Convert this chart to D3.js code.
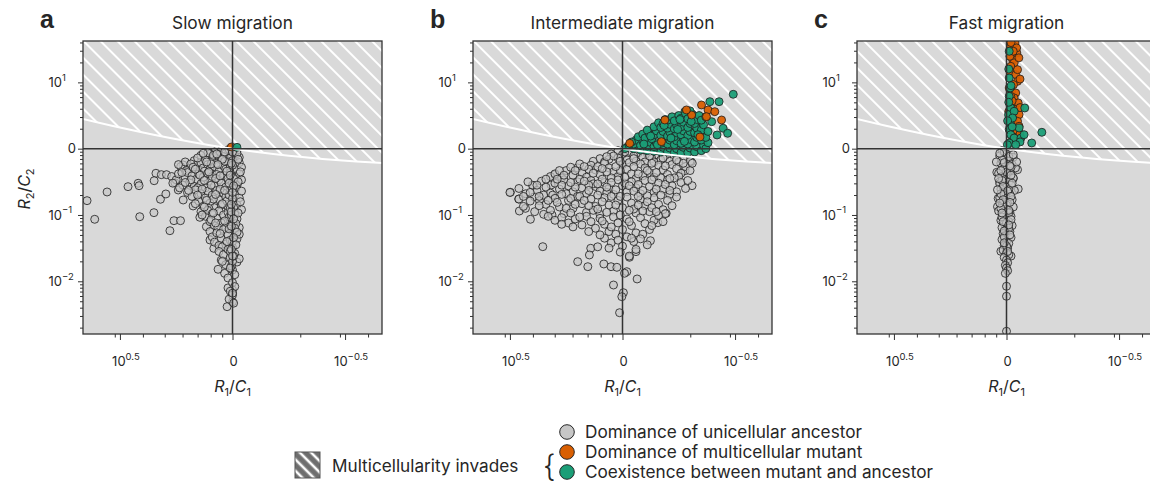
<!DOCTYPE html>
<html>
<head>
<meta charset="utf-8">
<script src="https://cdn.jsdelivr.net/npm/d3@7"></script>
<style>
  body { margin: 0; background: #fff; }
  svg text { font-family: Inter, "Noto Sans", sans-serif; fill: #262626; }
</style>
</head>
<body>
<svg id="chart" width="1150" height="484"></svg>
<script>
// Each point is [log10(R1/C1), log10(R2/C2)] for one simulated community.

// ---- Slow migration ----
const slowUnicellular = [
  [0.646,-0.784],[0.612,-1.065],[0.557,-0.653],[0.464,-0.573],[0.419,-0.522],[0.415,-0.558],[0.412,-1.026],
  [0.349,-0.965],[0.340,-0.371],[0.348,-0.483],[0.316,-0.392],[0.293,-0.392],[0.320,-0.763],[0.296,-0.683],
  [0.278,-1.237],[0.260,-1.086],[0.231,-1.086],[0.219,-0.246],[0.256,-0.513],[0.241,-0.623],[0.219,-0.774],
  [0.175,-0.864],[0.145,-1.035],[0.116,-1.176],[0.100,-1.377],[0.083,-1.503],[0.064,-1.819],[0.024,-2.383],
  [0.000,-2.31],[0.000,-2.18],[0.000,-2.13],[0.020,-2.10],
  [0.02,-0.02],[0.05,-0.03],[0.08,-0.05],[0.00,-0.04],[-0.02,-0.03],[0.10,-0.08],[0.06,-0.09],[0.03,-0.07],
  [-0.01,-0.10],[0.09,-0.12],[0.12,-0.13],[0.04,-0.12],[0.01,-0.14],[-0.03,-0.13],[0.07,-0.15],[0.11,-0.06],
  [0.14,-0.10],[-0.02,-0.07],[0.015,-0.01],[0.035,-0.05],
  [0.23,-0.27],[0.21,-0.20],[0.19,-0.30],[0.17,-0.18],[0.16,-0.25],[0.15,-0.33],[0.14,-0.21],[0.13,-0.29],
  [0.12,-0.17],[0.11,-0.24],[0.10,-0.31],[0.09,-0.19],[0.08,-0.27],[0.07,-0.22],[0.06,-0.34],[0.05,-0.17],
  [0.04,-0.26],[0.03,-0.31],[0.02,-0.20],[0.01,-0.28],[0.00,-0.18],[-0.01,-0.24],[-0.02,-0.32],[-0.03,-0.21],
  [-0.04,-0.28],[0.185,-0.23],[0.125,-0.34],[0.205,-0.33],[0.095,-0.23],[0.035,-0.19],
  [0.27,-0.42],[0.25,-0.47],[0.24,-0.38],[0.22,-0.55],[0.21,-0.44],[0.20,-0.36],[0.19,-0.50],[0.18,-0.41],
  [0.17,-0.57],[0.16,-0.46],[0.15,-0.38],[0.14,-0.53],[0.13,-0.43],[0.12,-0.59],[0.11,-0.37],[0.10,-0.49],
  [0.09,-0.42],[0.08,-0.56],[0.07,-0.39],[0.06,-0.47],[0.05,-0.52],[0.04,-0.40],[0.03,-0.58],[0.02,-0.45],
  [0.01,-0.36],[0.00,-0.51],[-0.01,-0.43],[-0.02,-0.55],[-0.03,-0.38],[-0.04,-0.47],[0.265,-0.52],[0.235,-0.59],
  [0.155,-0.59],[0.075,-0.45],[-0.015,-0.59],
  [0.20,-0.66],[0.18,-0.72],[0.165,-0.62],[0.15,-0.79],[0.14,-0.68],[0.13,-0.87],[0.12,-0.74],[0.11,-0.64],
  [0.10,-0.82],[0.09,-0.70],[0.08,-0.89],[0.07,-0.63],[0.06,-0.77],[0.05,-0.85],[0.04,-0.67],[0.03,-0.73],
  [0.02,-0.88],[0.01,-0.62],[0.00,-0.80],[-0.01,-0.69],[-0.02,-0.85],[-0.03,-0.74],[-0.04,-0.64],[0.105,-0.90],
  [0.055,-0.61],[0.025,-0.79],[-0.005,-0.89],[0.135,-0.61],[0.085,-0.76],[0.015,-0.70],
  [0.14,-0.95],[0.12,-1.02],[0.11,-0.93],[0.10,-1.10],[0.09,-0.98],[0.08,-1.16],[0.07,-1.05],[0.06,-0.94],
  [0.05,-1.12],[0.04,-1.00],[0.03,-1.18],[0.02,-0.96],[0.01,-1.08],[0.00,-1.14],[-0.01,-0.99],[-0.02,-1.06],
  [-0.03,-1.19],[-0.04,-0.92],[0.065,-1.19],[0.015,-1.03],[-0.015,-1.13],[0.095,-1.07],
  [0.10,-1.25],[0.09,-1.33],[0.08,-1.41],[0.07,-1.27],[0.06,-1.46],[0.05,-1.35],[0.04,-1.22],[0.03,-1.44],
  [0.02,-1.30],[0.01,-1.38],[0.00,-1.49],[-0.01,-1.24],[-0.02,-1.36],[-0.03,-1.29],[0.045,-1.48],[0.015,-1.21],
  [0.06,-1.55],[0.05,-1.68],[0.04,-1.60],[0.03,-1.75],[0.02,-1.52],[0.01,-1.64],[0.00,-1.83],[-0.01,-1.58],
  [-0.02,-1.71],[-0.03,-1.66],[0.035,-1.88],[0.005,-1.77],
  [0.02,-1.95],[0.00,-2.02],[-0.01,-2.08],[0.01,-2.15],[0.00,-2.21],[0.015,-2.27],[-0.005,-2.33],[0.00,-2.18],
  [0.0,-0.6],[0.01,-0.9],[-0.01,-1.2],[0.0,-1.4],[0.005,-1.0],[0.0,-0.25],[-0.005,-0.45],[0.0,-0.75],
  [0.01,-1.55],[0.0,-1.7],[-0.01,-1.9],[0.0,-0.05],
  [0.045,-0.16],[0.085,-0.10],[0.115,-0.20],[0.155,-0.14],[0.065,-0.24],[0.025,-0.34],[0.175,-0.28],[0.105,-0.35],
  [0.145,-0.40],[0.185,-0.47],[0.055,-0.41],[0.015,-0.52],[0.095,-0.55],[0.125,-0.48],[0.035,-0.63],[0.075,-0.69],
  [0.115,-0.78],[0.155,-0.70],[0.045,-0.83],[0.005,-0.95],[0.085,-0.97],[0.125,-0.88],[0.035,-1.09],[0.075,-1.12],
  [0.055,-1.28],[0.025,-1.40],[-0.005,-1.62],[0.045,-1.70],[0.01,-1.80],[-0.025,-0.16],[-0.035,-0.35],[-0.025,-0.50],
  [-0.035,-0.80],[-0.025,-0.97],[-0.02,-1.26],[-0.015,-1.45],[0.005,-0.22],[0.01,-0.40],[-0.005,-0.56],[0.0,-0.66],
  [0.005,-0.84],[-0.005,-1.06],[0.005,-1.17],[-0.005,-1.34],[0.005,-1.52],[0.0,-1.62],[0.21,-0.51],[0.225,-0.36],
  [0.195,-0.63],[0.165,-0.83],[0.135,-1.00],[0.24,-0.24],[0.165,-0.31],[0.07,-0.08],[0.13,-0.07]
];
const slowMulticellular = [[0.005,0.025]];
const slowCoexistence = [[-0.02,0.02]];

// ---- Intermediate migration ----
const intermediateUnicellular = [
  [0.498,-0.658],[0.461,-0.759],[0.458,-0.94],[0.431,-0.90],[0.409,-1.065],[0.396,-0.558],[0.391,-0.724],
  [0.369,-0.784],[0.354,-1.478],[0.300,-0.392],[0.317,-0.548],[0.313,-1.0],[0.199,-1.704],[0.154,-1.78],
  [0.141,-1.502],[0.147,-1.603],[0.083,-1.739],[0.040,-2.056],[0.013,-2.474],[-0.004,-2.172],[0.003,-2.232],
  [-0.065,-1.965],[-0.124,-1.388],[-0.194,-0.975],[-0.309,-0.558],[-0.278,-0.332],[-0.305,-0.196],
  [-0.157,-1.116],[-0.06,-1.553],[-0.031,-1.638],[-0.019,-1.855],[-0.009,-1.879],[0.051,-1.78],[0.025,-1.789],
  [0.02,-0.03],[-0.03,-0.04],[-0.07,-0.06],[-0.11,-0.07],[-0.15,-0.09],[-0.19,-0.11],[-0.23,-0.13],[-0.27,-0.16],
  [-0.30,-0.19],[0.05,-0.08],[0.00,-0.09],[-0.05,-0.11],[-0.09,-0.13],[-0.13,-0.15],[-0.17,-0.17],[-0.21,-0.19],
  [0.10,-0.15],[0.06,-0.16],[0.02,-0.14],[-0.02,-0.17],[-0.06,-0.19],[-0.10,-0.20],[-0.14,-0.20],[0.13,-0.19],
  [0.08,-0.20],[-0.25,-0.20],[0.04,-0.11],[-0.01,-0.05],
  [0.32,-0.42],[0.30,-0.38],[0.27,-0.44],[0.25,-0.33],[0.22,-0.40],[0.20,-0.29],[0.18,-0.36],[0.16,-0.43],
  [0.14,-0.25],[0.12,-0.32],[0.10,-0.39],[0.08,-0.22],[0.06,-0.29],[0.04,-0.35],[0.02,-0.42],[0.00,-0.24],
  [-0.02,-0.31],[-0.04,-0.38],[-0.06,-0.45],[-0.08,-0.23],[-0.10,-0.29],[-0.12,-0.36],[-0.14,-0.43],[-0.16,-0.25],
  [-0.18,-0.32],[-0.20,-0.39],[-0.22,-0.24],[-0.24,-0.30],[-0.26,-0.37],[-0.28,-0.27],[-0.30,-0.33],[-0.31,-0.22],
  [0.19,-0.23],[0.23,-0.28],[0.11,-0.27],[0.05,-0.44],[-0.03,-0.21],[-0.09,-0.41],[-0.17,-0.44],[-0.25,-0.42],
  [0.28,-0.33],[0.15,-0.31],[-0.05,-0.27],[-0.13,-0.22],
  [0.50,-0.66],[0.46,-0.60],[0.43,-0.68],[0.40,-0.55],[0.38,-0.63],[0.36,-0.49],[0.34,-0.58],[0.32,-0.67],
  [0.30,-0.52],[0.28,-0.61],[0.26,-0.47],[0.24,-0.56],[0.22,-0.65],[0.20,-0.50],[0.18,-0.59],[0.16,-0.68],
  [0.14,-0.48],[0.12,-0.57],[0.10,-0.64],[0.08,-0.51],[0.06,-0.60],[0.04,-0.69],[0.02,-0.47],[0.00,-0.56],
  [-0.02,-0.65],[-0.04,-0.50],[-0.06,-0.59],[-0.08,-0.68],[-0.10,-0.48],[-0.12,-0.57],[-0.14,-0.66],[-0.16,-0.52],
  [-0.18,-0.61],[-0.20,-0.47],[-0.22,-0.56],[-0.24,-0.65],[-0.26,-0.51],[-0.28,-0.60],[-0.29,-0.48],[0.42,-0.50],
  [0.31,-0.70],[0.19,-0.46],[0.07,-0.66],[-0.01,-0.52],[-0.13,-0.47],[-0.21,-0.69],[0.25,-0.68],[0.13,-0.53],
  [-0.07,-0.54],[0.35,-0.70],
  [0.46,-0.76],[0.44,-0.87],[0.41,-0.79],[0.39,-0.95],[0.37,-0.72],[0.34,-0.84],[0.32,-0.93],[0.30,-0.75],
  [0.28,-0.88],[0.26,-0.98],[0.24,-0.78],[0.22,-0.90],[0.20,-0.72],[0.18,-0.83],[0.16,-0.96],[0.14,-0.76],
  [0.12,-0.87],[0.10,-0.99],[0.08,-0.74],[0.06,-0.85],[0.04,-0.94],[0.02,-0.78],[0.00,-0.89],[-0.02,-0.73],
  [-0.04,-0.82],[-0.06,-0.97],[-0.08,-0.77],[-0.10,-0.86],[-0.12,-0.95],[-0.14,-0.74],[-0.16,-0.84],[-0.18,-0.92],
  [-0.20,-0.78],[-0.22,-0.86],[-0.24,-0.73],[-0.19,-0.98],[0.35,-0.99],[0.29,-0.81],[0.13,-0.93],[0.05,-0.72],
  [-0.05,-0.91],[-0.11,-0.71],
  [0.33,-1.02],[0.30,-1.08],[0.27,-1.04],[0.24,-1.12],[0.21,-1.06],[0.18,-1.15],[0.16,-1.02],[0.14,-1.10],
  [0.12,-1.20],[0.10,-1.05],[0.08,-1.14],[0.06,-1.25],[0.04,-1.03],[0.02,-1.12],[0.00,-1.22],[-0.02,-1.06],
  [-0.04,-1.16],[-0.06,-1.27],[-0.08,-1.04],[-0.10,-1.13],[-0.12,-1.22],[-0.14,-1.08],[-0.16,-1.01],[-0.18,-1.10],
  [-0.09,-1.29],[0.03,-1.29],[0.15,-1.25],
  [0.08,-1.35],[0.05,-1.42],[0.02,-1.38],[0.00,-1.47],[-0.02,-1.33],[-0.05,-1.40],[-0.08,-1.36],[-0.11,-1.45],
  [0.11,-1.48],[0.01,-1.56],[-0.03,-1.62],[-0.06,-1.52],
  [0.01,-0.33],[0.03,-0.27],[0.07,-0.35],[0.09,-0.30],[0.13,-0.37],[0.17,-0.27],[0.21,-0.33],[0.05,-0.51],
  [0.09,-0.46],[0.11,-0.53],[0.15,-0.55],[0.17,-0.49],[0.21,-0.58],[0.23,-0.51],[0.27,-0.55],[0.03,-0.62],
  [0.07,-0.58],[0.11,-0.70],[0.15,-0.63],[0.19,-0.72],[0.23,-0.75],[0.27,-0.69],[0.01,-0.72],[0.03,-0.85],
  [0.09,-0.80],[0.11,-0.91],[0.15,-0.86],[0.17,-0.78],[0.21,-0.84],[0.25,-0.90],[0.07,-0.96],[0.01,-1.00],
  [0.19,-1.03],[0.23,-0.97],[0.09,-1.09],[-0.03,-0.56],[-0.05,-0.64],[-0.07,-0.72],[-0.09,-0.63],[-0.11,-0.80],
  [-0.13,-0.89],[-0.15,-0.61],[-0.17,-0.70],[-0.19,-0.54],[-0.21,-0.63],[-0.23,-0.44],[-0.03,-0.93],[-0.07,-0.85],
  [-0.09,-0.94],[-0.15,-0.95],[-0.01,-0.43],[-0.07,-0.38],[-0.11,-0.33],[-0.15,-0.36],[-0.19,-0.26],[-0.21,-0.45],
  [-0.27,-0.22],[-0.05,-0.15],[-0.12,-0.11],[-0.18,-0.14],[-0.24,-0.17],[0.07,-0.12],[0.01,-0.19],[0.26,-0.40],
  [0.34,-0.46],[0.38,-0.55],[0.29,-0.46],[0.33,-0.78],[0.37,-0.86],[0.41,-0.66],[0.44,-0.72],[0.27,-1.14],
  [0.22,-1.18],[0.05,-1.18],[-0.03,-1.10],[-0.13,-1.16],[0.10,-1.30],[-0.04,-1.35],[0.06,-1.50]
];
const intermediateMulticellular = [
  [-0.351,0.659],[-0.38,0.584],[-0.41,0.558],[-0.373,0.483],[-0.44,0.433],[-0.188,0.433],[-0.173,0.106],
  [-0.032,0.081],[-0.307,0.508],[-0.344,0.176],[-0.284,0.584]
];
const intermediateCoexistence = [
  [-0.492,0.82],[-0.388,0.709],[-0.429,0.709],[-0.447,0.308],[-0.42,0.207],[-0.467,0.232],[-0.396,0.407],
  [-0.277,0.558],[-0.351,0.332],
  [-0.02,0.02],[-0.01,0.0],[-0.03,0.05],
  [-0.05,0.00],[-0.05,0.07],[-0.06,0.13],[-0.04,0.10],
  [-0.08,-0.02],[-0.08,0.05],[-0.09,0.12],[-0.07,0.18],[-0.09,0.22],
  [-0.11,-0.03],[-0.11,0.04],[-0.12,0.10],[-0.10,0.16],[-0.12,0.22],[-0.11,0.28],
  [-0.14,-0.04],[-0.14,0.03],[-0.15,0.09],[-0.13,0.15],[-0.14,0.21],[-0.15,0.27],[-0.14,0.33],[-0.16,0.39],
  [-0.17,-0.05],[-0.18,0.02],[-0.17,0.08],[-0.18,0.14],[-0.17,0.20],[-0.18,0.26],[-0.17,0.32],[-0.18,0.38],[-0.19,0.44],
  [-0.20,-0.05],[-0.21,0.01],[-0.20,0.07],[-0.21,0.13],[-0.20,0.19],[-0.21,0.25],[-0.20,0.31],[-0.21,0.37],[-0.20,0.43],[-0.22,0.48],
  [-0.23,-0.06],[-0.24,0.00],[-0.23,0.06],[-0.24,0.12],[-0.23,0.18],[-0.24,0.24],[-0.23,0.30],[-0.24,0.36],[-0.23,0.42],[-0.25,0.50],
  [-0.26,-0.06],[-0.27,0.02],[-0.26,0.08],[-0.27,0.15],[-0.26,0.21],[-0.27,0.27],[-0.26,0.33],[-0.27,0.40],[-0.26,0.46],[-0.28,0.53],
  [-0.29,-0.06],[-0.30,0.01],[-0.29,0.07],[-0.30,0.14],[-0.29,0.20],[-0.30,0.26],[-0.29,0.32],[-0.30,0.38],[-0.29,0.45],[-0.31,0.52],[-0.30,0.57],
  [-0.32,-0.05],[-0.33,0.03],[-0.32,0.10],[-0.33,0.17],[-0.32,0.24],[-0.33,0.31],[-0.32,0.38],[-0.33,0.44],[-0.34,0.50],
  [-0.35,-0.03],[-0.36,0.05],[-0.35,0.13],[-0.36,0.21],[-0.35,0.28],[-0.36,0.36],[-0.35,0.43],[-0.37,0.48],
  [-0.37,0.00],[-0.38,0.09],[-0.37,0.17],[-0.38,0.26],
  [-0.155,0.06],[-0.215,0.16],[-0.245,0.29],[-0.275,0.11],[-0.305,0.41],[-0.125,0.19],[-0.185,0.35],[-0.255,0.44],
  [-0.335,0.21],[-0.095,0.07]
];

// ---- Fast migration ----
const fastUnicellular = [
  [0.043,-0.356],[-0.052,-0.608],[-0.049,-0.317],[0.037,-0.75],[0.04,-0.875],[0.025,-1.548],[-0.02,-1.62],
  [0.0,-2.075],[0.0,-2.226],[0.0,-2.754],[-0.03,-0.45],[0.03,-0.5],
  [0.02,-0.03],[-0.02,-0.05],[0.00,-0.08],[0.03,-0.11],[-0.03,-0.13],[0.01,-0.16],[-0.01,-0.19],[0.025,-0.22],
  [-0.025,-0.24],[0.005,-0.27],[-0.04,-0.29],[0.015,-0.31],[-0.015,-0.34],[0.035,-0.37],[-0.005,-0.39],[0.02,-0.42],
  [-0.03,-0.44],[0.01,-0.47],[-0.01,-0.50],[0.03,-0.53],[-0.02,-0.55],[0.00,-0.58],[0.025,-0.61],[-0.035,-0.63],
  [0.015,-0.66],[-0.015,-0.69],[0.005,-0.72],[0.03,-0.74],[-0.025,-0.77],[0.01,-0.80],[-0.005,-0.83],[0.02,-0.86],
  [-0.03,-0.88],[0.00,-0.91],[0.035,-0.94],[-0.015,-0.96],[0.015,-0.99],[-0.02,-1.02],[0.005,-1.05],[0.025,-1.08],
  [-0.01,-1.10],[0.01,-1.13],[-0.025,-1.16],[0.02,-1.19],[0.00,-1.22],[-0.015,-1.25],[0.015,-1.28],[0.005,-1.31],
  [-0.02,-1.34],[0.02,-1.37],[0.00,-1.40],[-0.01,-1.43],[0.01,-1.46],[-0.005,-1.50],[0.015,-1.53],[0.00,-1.57],
  [-0.01,-1.60],[0.01,-1.64],[0.00,-1.68],[-0.005,-1.72],[0.005,-1.76],[0.00,-1.80],[-0.005,-1.84],[0.005,-1.88],
  [0.01,-0.05],[-0.01,-0.12],[0.02,-0.17],[-0.02,-0.28],[0.0,-0.35],[0.02,-0.48],[-0.01,-0.62],[0.01,-0.70],
  [0.0,-0.85],[-0.01,-0.97],[0.02,-1.03],[0.0,-1.12],[-0.01,-1.2],[0.01,-1.33],[0.0,-1.47],
  [0.03,-0.07],[-0.03,-0.09],[0.01,-0.21],[-0.015,-0.26],[0.025,-0.33],[-0.02,-0.40],[0.035,-0.45],[-0.025,-0.52],
  [0.015,-0.57],[-0.005,-0.64],[0.025,-0.68],[-0.02,-0.72],[0.015,-0.77],[-0.015,-0.81],[0.025,-0.90],[-0.01,-0.93],
  [0.02,-0.97],[-0.02,-1.07],[0.015,-1.10],[-0.01,-1.15],[0.01,-1.24],[-0.015,-1.30],[0.01,-1.42],[-0.005,-1.55],
  [0.045,-0.20],[-0.045,-0.20],[0.04,-0.62],[0.03,-0.82]
];
const fastMulticellular = [
  [-0.038,1.594],[-0.019,1.544],[-0.046,1.443],[-0.027,1.343],[-0.034,1.293],[-0.019,1.242],[-0.016,1.167],
  [-0.041,1.117],[-0.049,1.016],[-0.031,0.966],[-0.022,0.866],[-0.041,0.84],[-0.034,0.765],[-0.052,0.69],
  [-0.019,0.664],[-0.038,0.589],[-0.056,0.513],[-0.031,0.438],[-0.049,0.413],[-0.016,0.338],[-0.034,0.262],
  [-0.041,0.161],[-0.027,0.136],[-0.016,0.488],[-0.056,0.338],[-0.012,0.916],[-0.019,0.79],[-0.049,1.192],
  [-0.015,1.394],[-0.02,1.60],[-0.045,1.52],[-0.03,1.47],[-0.055,1.37],[-0.06,1.05],[-0.025,0.72],[-0.06,0.62],
  [-0.045,0.28],[-0.06,0.22],[-0.01,0.56]
];
const fastCoexistence = [
  [-0.012,1.469],[-0.012,1.066],[-0.016,0.916],[-0.012,0.79],[-0.019,0.614],[-0.009,0.513],[-0.016,0.388],
  [-0.034,0.564],[-0.027,0.463],[-0.012,0.287],[-0.019,0.211],[-0.034,0.161],[-0.012,0.086],[-0.056,0.312],
  [-0.064,0.161],[-0.081,0.614],[-0.157,0.247],[-0.078,0.211],[-0.112,0.086],[-0.06,0.101],[-0.041,0.06],
  [-0.004,0.06],[-0.01,0.7],[-0.02,0.95],[-0.005,0.42],[-0.025,0.33],[-0.01,1.2]
];

// Invasion threshold for the multicellular mutant (log10 R1/C1 -> log10 R2/C2)
const thresholdR1 = [0.664, 0.5, 0.35, 0.2, 0.1, 0, -0.1, -0.25, -0.4, -0.55, -0.664];
const thresholdR2 = [0.448, 0.318, 0.209, 0.111, 0.053, 0, -0.047, -0.107, -0.155, -0.193, -0.216];

// Axis ticks
const xMajorTicks = [Math.pow(10, 0.5), 1, Math.pow(10, -0.5)];
const xMajorLabels = [["10", "0.5"], ["0", ""], ["10", "\u22120.5"]];
const xMinorTicks = [1/0.3, 1/0.4, 1/0.5, 1/0.6, 1/0.7, 1/0.8, 1/0.9, 1/2, 1/3, 1/4];
const yMajorTicks = [10, 1, 0.1, 0.01];
const yMajorLabels = [["10", "1"], ["0", ""], ["10", "\u22121"], ["10", "\u22122"]];
const yMinorTicks = [];
[-3, -2, -1, 0, 1].forEach(k => { for (let m = 2; m <= 9; m++) yMinorTicks.push(m * Math.pow(10, k)); });

const panelTitles = ["Slow migration", "Intermediate migration", "Fast migration"];
const panelLetters = ["a", "b", "c"];

const legendOutcomes = ["Dominance of unicellular ancestor", "Dominance of multicellular mutant", "Coexistence between mutant and ancestor"];

// ---- drawing ----
const colors = { uni: "#c6c6c6", multi: "#d95f02", coex: "#1b9e77" };
const svg = d3.select("#chart");
const defs = svg.append("defs");

function hatch(id, bg, w, sw) {
  const p = defs.append("pattern").attr("id", id).attr("patternUnits", "userSpaceOnUse")
    .attr("width", w).attr("height", w).attr("patternTransform", "rotate(-45)");
  p.append("rect").attr("width", w).attr("height", w).attr("fill", bg);
  p.append("line").attr("x1", w / 2).attr("x2", w / 2).attr("y1", 0).attr("y2", w)
    .attr("stroke", "#fff").attr("stroke-width", sw);
}
hatch("hatchPlot", "#d9d9d9", 12, 2);
hatch("hatchKey", "#6e6e6e", 8, 2.6);

const plotW = 299, plotTop = 41, plotBottom = 334;
const lefts = [83, 473, 857];
const panels = [
  { uni: slowUnicellular, multi: slowMulticellular, coex: slowCoexistence, mutantOnTop: false },
  { uni: intermediateUnicellular, multi: intermediateMulticellular, coex: intermediateCoexistence, mutantOnTop: true },
  { uni: fastUnicellular, multi: fastMulticellular, coex: fastCoexistence, mutantOnTop: false }
];
const p10 = v => Math.pow(10, v);

panels.forEach((series, i) => {
  const left = lefts[i];
  const x = d3.scaleLog().domain([p10(0.664), p10(-0.664)]).range([left, left + plotW]);
  const y = d3.scaleLog().domain([p10(-2.795), p10(1.624)]).range([plotBottom, plotTop]);
  const g = svg.append("g");
  const clipId = "clip" + i;
  defs.append("clipPath").attr("id", clipId).append("rect")
    .attr("x", left).attr("y", plotTop).attr("width", plotW).attr("height", plotBottom - plotTop);

  const body = g.append("g").attr("clip-path", `url(#${clipId})`);
  body.append("rect").attr("x", left).attr("y", plotTop).attr("width", plotW).attr("height", plotBottom - plotTop).attr("fill", "#d9d9d9");

  const thr = thresholdR1.map((v, j) => [p10(v), p10(thresholdR2[j])]);
  const area = d3.area().x(d => x(d[0])).y0(plotTop).y1(d => y(d[1])).curve(d3.curveMonotoneX);
  body.append("path").datum(thr).attr("d", area).attr("fill", "url(#hatchPlot)");

  const drawPts = (arr, fill, fop) => body.append("g").selectAll("circle").data(arr).join("circle")
    .attr("cx", d => x(p10(d[0]))).attr("cy", d => y(p10(d[1]))).attr("r", 4)
    .attr("fill", fill).attr("fill-opacity", fop)
    .attr("stroke", "#1e1e1e").attr("stroke-opacity", 0.85).attr("stroke-width", 0.95);
  drawPts(series.uni, colors.uni, 0.7);
  if (series.mutantOnTop) {
    drawPts(series.coex, colors.coex, 0.95);
    drawPts(series.multi, colors.multi, 0.95);
  } else {
    drawPts(series.multi, colors.multi, 0.95);
    drawPts(series.coex, colors.coex, 0.95);
  }

  const line = d3.line().x(d => x(d[0])).y(d => y(d[1])).curve(d3.curveMonotoneX);
  body.append("path").datum(thr).attr("d", line).attr("fill", "none").attr("stroke", "#fff").attr("stroke-width", 2);

  // reference lines at R/C = 1
  body.append("line").attr("x1", x(1)).attr("x2", x(1)).attr("y1", plotTop).attr("y2", plotBottom)
    .attr("stroke", "#333").attr("stroke-width", 1.5);
  body.append("line").attr("x1", left).attr("x2", left + plotW).attr("y1", y(1)).attr("y2", y(1))
    .attr("stroke", "#333").attr("stroke-width", 1.5);

  g.append("rect").attr("x", left).attr("y", plotTop).attr("width", plotW).attr("height", plotBottom - plotTop)
    .attr("fill", "none").attr("stroke", "#333").attr("stroke-width", 1.3);

  // tick marks
  const tickStyle = sel => { sel.select(".domain").remove(); sel.selectAll("line").attr("stroke", "#333").attr("stroke-width", 1); };
  g.append("g").attr("transform", `translate(0,${plotBottom})`)
    .call(d3.axisBottom(x).tickValues(xMinorTicks).tickSize(3.5).tickFormat("")).call(tickStyle);
  g.append("g").attr("transform", `translate(0,${plotBottom})`)
    .call(d3.axisBottom(x).tickValues(xMajorTicks).tickSize(6).tickFormat("")).call(tickStyle);
  g.append("g").attr("transform", `translate(${left},0)`)
    .call(d3.axisLeft(y).tickValues(yMinorTicks.filter(v => y(v) >= plotTop && y(v) <= plotBottom)).tickSize(3).tickFormat("")).call(tickStyle);
  g.append("g").attr("transform", `translate(${left},0)`)
    .call(d3.axisLeft(y).tickValues(yMajorTicks).tickSize(5).tickFormat("")).call(tickStyle);

  // tick labels
  xMajorTicks.forEach((v, j) => {
    const [base, sup] = xMajorLabels[j];
    const t = g.append("text").attr("x", x(v) + (sup ? 6 : 1)).attr("y", 366)
      .attr("text-anchor", "middle").style("font-size", "13px");
    t.append("tspan").text(base);
    if (sup) t.append("tspan").attr("dy", -6).style("font-size", "9.5px").text(sup);
  });
  yMajorTicks.forEach((v, j) => {
    const [base, sup] = yMajorLabels[j];
    if (!sup) {
      g.append("text").attr("x", left - 7).attr("y", y(v) + 4.7).attr("text-anchor", "end")
        .style("font-size", "13px").text(base);
    } else {
      g.append("text").attr("x", left - 21).attr("y", y(v) + 4.7).attr("text-anchor", "end")
        .style("font-size", "13px").text(base);
      g.append("text").attr("x", left - 21).attr("y", y(v) - 1.5)
        .style("font-size", "9.5px").text(sup);
    }
  });

  // axis titles
  const xl = g.append("text").attr("x", x(1)).attr("y", 392).attr("text-anchor", "middle").style("font-size", "16px");
  xl.append("tspan").style("font-style", "italic").text("R");
  xl.append("tspan").attr("dy", 4).style("font-size", "11px").text("1");
  xl.append("tspan").attr("dy", -4).text("/");
  xl.append("tspan").style("font-style", "italic").text("C");
  xl.append("tspan").attr("dy", 4).style("font-size", "11px").text("1");

  if (i === 0) {
    const yl = g.append("text").attr("transform", `translate(30,189) rotate(-90)`).attr("text-anchor", "middle").style("font-size", "16px");
    yl.append("tspan").style("font-style", "italic").text("R");
    yl.append("tspan").attr("dy", 4).style("font-size", "11px").text("2");
    yl.append("tspan").attr("dy", -4).text("/");
    yl.append("tspan").style("font-style", "italic").text("C");
    yl.append("tspan").attr("dy", 4).style("font-size", "11px").text("2");
  }

  g.append("text").attr("x", x(1)).attr("y", 29).attr("text-anchor", "middle").style("font-size", "17.3px").text(panelTitles[i]);
  g.append("text").attr("x", left - 43).attr("y", 28).style("font-family", "'Liberation Sans', Arial, sans-serif")
    .style("font-weight", "bold").style("font-size", "25px").attr("fill", "#111").text(panelLetters[i]);
});

// ---- legend ----
const lg = svg.append("g");
lg.append("rect").attr("x", 295).attr("y", 452).attr("width", 25).attr("height", 26)
  .attr("fill", "url(#hatchKey)").attr("stroke", "#555").attr("stroke-width", 1);
lg.append("text").attr("x", 332).attr("y", 471.5).style("font-size", "17.2px").text("Multicellularity invades");
lg.append("text").attr("x", 543).attr("y", 477).style("font-size", "30px").style("font-weight", "300").text("{");
const keyFills = [colors.uni, colors.multi, colors.coex];
legendOutcomes.forEach((label, j) => {
  const cy = 432 + j * 20;
  lg.append("circle").attr("cx", 567).attr("cy", cy).attr("r", 7.3)
    .attr("fill", keyFills[j]).attr("stroke", "#262626").attr("stroke-width", 1);
  lg.append("text").attr("x", 585).attr("y", cy + 6).style("font-size", "17.2px").text(label);
});
</script>
</body>
</html>
